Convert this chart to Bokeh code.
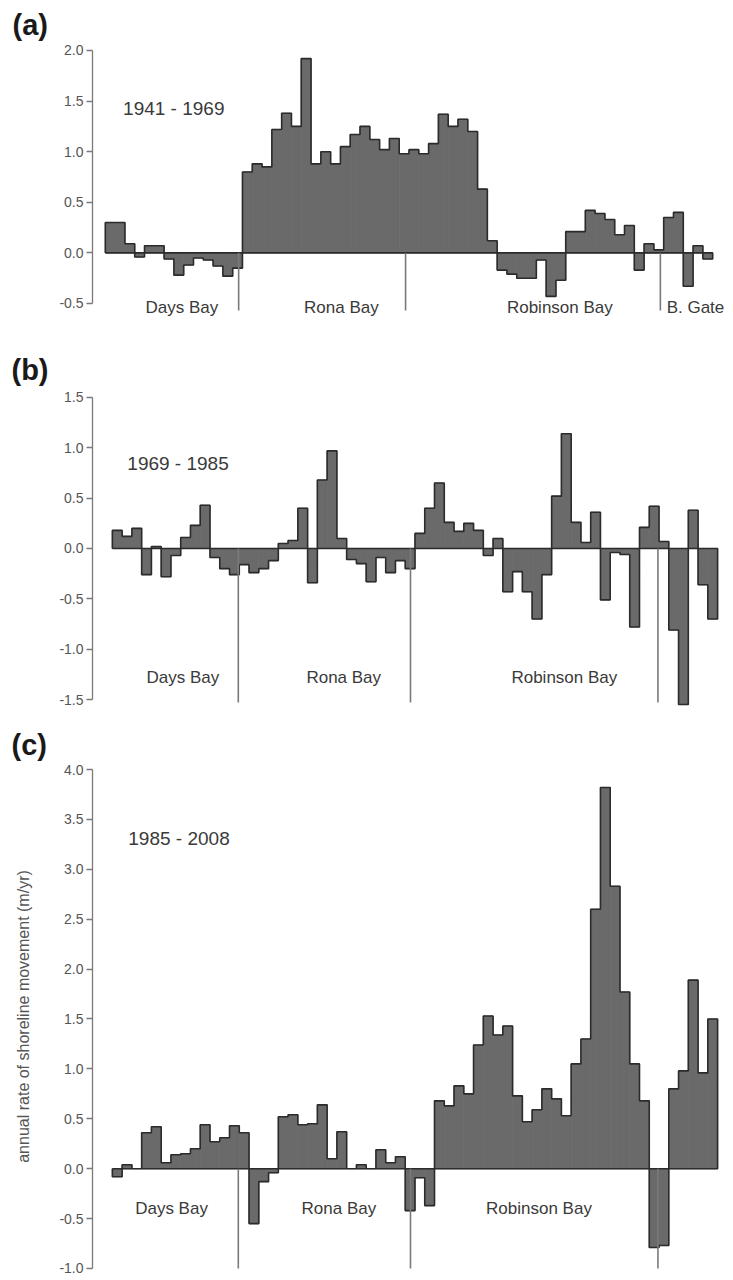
import numpy as np
from bokeh.plotting import figure
from bokeh.models import Range1d, FixedTicker, PrintfTickFormatter
from bokeh.layouts import column
from bokeh.embed import file_html
from bokeh.resources import INLINE
from bokeh.core.properties import value

FONT = "Liberation Sans"

# ---------------- data (annual rate of shoreline movement, m/yr) ----------------
rate_1941_1969 = [0.30, 0.30, 0.09, -0.04, 0.07, 0.07, -0.06, -0.22, -0.12, -0.05,
                  -0.07, -0.13, -0.23, -0.15, 0.80, 0.88, 0.85, 1.22, 1.38, 1.25,
                  1.92, 0.88, 1.00, 0.88, 1.05, 1.17, 1.25, 1.12, 1.02, 1.13,
                  0.98, 1.02, 0.98, 1.08, 1.37, 1.25, 1.32, 1.20, 0.63, 0.12,
                  -0.17, -0.21, -0.25, -0.25, -0.07, -0.43, -0.27, 0.21, 0.21, 0.42,
                  0.39, 0.33, 0.18, 0.27, -0.17, 0.09, 0.03, 0.35, 0.40, -0.33,
                  0.07, -0.06]
rate_1969_1985 = [0.18, 0.12, 0.20, -0.26, 0.02, -0.28, -0.07, 0.11, 0.23, 0.43,
                  -0.09, -0.20, -0.26, -0.16, -0.24, -0.20, -0.12, 0.05, 0.08, 0.40,
                  -0.34, 0.68, 0.97, 0.10, -0.11, -0.15, -0.33, -0.09, -0.24, -0.12,
                  -0.20, 0.15, 0.40, 0.65, 0.26, 0.17, 0.25, 0.18, -0.07, 0.10,
                  -0.43, -0.23, -0.43, -0.70, -0.26, 0.52, 1.14, 0.26, 0.06, 0.36,
                  -0.51, -0.04, -0.06, -0.78, 0.21, 0.42, 0.07, -0.81, -1.55, 0.38,
                  -0.36, -0.70]
rate_1985_2008 = [-0.08, 0.04, 0.00, 0.36, 0.42, 0.06, 0.14, 0.15, 0.20, 0.44,
                  0.27, 0.31, 0.43, 0.36, -0.55, -0.13, -0.04, 0.52, 0.54, 0.44,
                  0.45, 0.64, 0.10, 0.37, 0.00, 0.04, 0.00, 0.19, 0.06, 0.12,
                  -0.42, -0.09, -0.37, 0.68, 0.63, 0.83, 0.75, 1.24, 1.53, 1.34,
                  1.43, 0.73, 0.47, 0.59, 0.80, 0.70, 0.53, 1.05, 1.30, 2.60,
                  3.82, 2.83, 1.77, 1.05, 0.68, -0.79, -0.77, 0.80, 0.98, 1.89,
                  0.96, 1.50]

period_labels = ["1941 - 1969", "1969 - 1985", "1985 - 2008"]
panel_tags = ["(a)", "(b)", "(c)"]
bay_names_a = ["Days Bay", "Rona Bay", "Robinson Bay", "B. Gate"]
bay_names_bc = ["Days Bay", "Rona Bay", "Robinson Bay"]
ticks_a = [-0.5, 0.0, 0.5, 1.0, 1.5, 2.0]
ticks_b = [-1.5, -1.0, -0.5, 0.0, 0.5, 1.0, 1.5]
ticks_c = [-1.0, -0.5, 0.0, 0.5, 1.0, 1.5, 2.0, 2.5, 3.0, 3.5, 4.0]
y_title = "annual rate of shoreline movement (m/yr)"

# ---------------- layout / style ----------------
BAR_FILL = "#6a6a6a"
EDGE = "#2b2b2b"
GREY = "#7a7a7a"
TXT = "#3a3a3a"


def make_panel(vals, ticks, height, top, bottom, xr, yr, border_l, border_r,
               dividers, div_bottom, period, period_xy, names, name_xy,
               tag, tag_offset, ylabel=None):
    p = figure(width=733, height=height, output_backend="svg", toolbar_location=None,
               x_range=Range1d(*xr), y_range=Range1d(*yr),
               min_border_left=border_l, min_border_right=border_r,
               min_border_top=top, min_border_bottom=bottom)
    p.outline_line_color = None
    p.background_fill_color = "white"
    p.border_fill_color = "white"
    p.grid.visible = False
    p.xaxis.visible = False

    # panel letter as the figure title, pushed to the left margin
    p.title.text = tag
    p.title.align = "left"
    p.title.offset = tag_offset
    p.title.standoff = 0
    p.title.text_font = FONT
    p.title.text_font_size = "29px"
    p.title.text_font_style = "bold"
    p.title.text_color = "#1a1a1a"

    ya = p.yaxis[0]
    ya.ticker = FixedTicker(ticks=ticks)
    ya.bounds = (min(ticks), max(ticks))
    ya.formatter = PrintfTickFormatter(format="%.1f")
    ya.axis_line_color = GREY
    ya.axis_line_width = 1.3
    ya.major_tick_line_color = GREY
    ya.major_tick_line_width = 1.3
    ya.major_tick_out = 6
    ya.major_tick_in = 0
    ya.minor_tick_line_color = None
    ya.major_label_text_font = FONT
    ya.major_label_text_font_size = "14px"
    ya.major_label_text_color = "#555555"
    ya.major_label_standoff = 3
    if ylabel:
        ya.axis_label = ylabel
        ya.axis_label_text_font = FONT
        ya.axis_label_text_font_size = "16px"
        ya.axis_label_text_font_style = "normal"
        ya.axis_label_text_color = "#555555"
        ya.axis_label_standoff = 24

    n = len(vals)
    x = np.arange(n) + 0.5
    p.vbar(x=x, top=vals, bottom=0, width=1.0, fill_color=BAR_FILL,
           line_color=BAR_FILL, line_width=0.8)

    # step outline of the bar series
    v = np.asarray(vals, dtype=float)
    edges = np.arange(n + 1, dtype=float)
    xs = np.concatenate([[0.0], np.repeat(edges, 2)[1:-1], [float(n), 0.0]])
    ys = np.concatenate([[0.0], np.repeat(v, 2), [0.0, 0.0]])
    p.line(xs, ys, line_color=EDGE, line_width=1.6)

    # bay dividers
    p.segment(x0=dividers, y0=[0] * len(dividers), x1=dividers,
              y1=[div_bottom] * len(dividers), line_color=GREY, line_width=1.6)

    p.text(x=[period_xy[0]], y=[period_xy[1]], text=[period],
           text_font=value(FONT), text_font_size="19px", text_color=TXT,
           text_align="left", text_baseline="middle")

    aligns = ["center"] * len(names)
    if len(names) == 4:
        aligns[-1] = "left"
    for nm, (nx, ny), al in zip(names, name_xy, aligns):
        p.text(x=[nx], y=[ny], text=[nm], text_font=value(FONT),
               text_font_size="17px", text_color=TXT, text_align=al,
               text_baseline="middle")
    return p


# panel (a): frame 92..733 px, 9.919 px per transect; y: 101.2 px per unit
pa = make_panel(rate_1941_1969, ticks_a, 330, 40, 4,
                (-1.31, 63.31), (-0.7273, 2.0988), 92, 0,
                [13.61, 30.65, 56.66], -0.57,
                period_labels[0], (1.81, 1.43), bay_names_a,
                [(7.81, -0.54), (24.1, -0.54), (46.4, -0.54), (57.3, -0.54)],
                panel_tags[0], -80)

# panel (b)
pb = make_panel(rate_1969_1985, ticks_b, 382, 55, 4,
                (-2.036, 62.81), (-1.5894, 1.6192), 88, 8,
                [12.9, 30.54, 55.89], -1.53,
                period_labels[1], (1.53, 0.84), bay_names_bc,
                [(7.23, -1.28), (23.7, -1.28), (46.3, -1.28)],
                panel_tags[1], -81)

# panel (c)
pc = make_panel(rate_1985_2008, ticks_c, 568, 48, 8,
                (-2.036, 62.81), (-1.0401, 4.0902), 88, 8,
                [12.9, 30.54, 55.89], -1.0,
                period_labels[2], (1.63, 3.31), bay_names_bc,
                [(6.06, -0.40), (23.2, -0.40), (43.7, -0.40)],
                panel_tags[2], -81, ylabel=y_title)

layout = column(pa, pb, pc, spacing=0)
open("out.html", "w").write(file_html(layout, INLINE))
